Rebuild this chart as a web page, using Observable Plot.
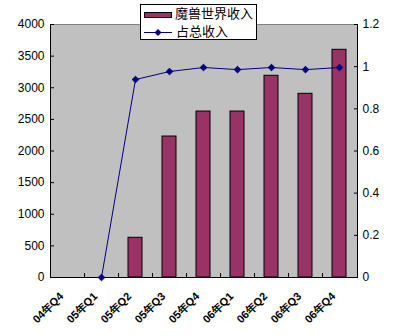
<!DOCTYPE html>
<html><head><meta charset="utf-8">
<script src="https://cdn.jsdelivr.net/npm/d3@7"></script>
<script src="https://cdn.jsdelivr.net/npm/@observablehq/plot@0.6"></script>
<style>
body{margin:0;background:#fff;}
#wrap{position:relative;width:402px;height:336px;}
#legend{position:absolute;left:140px;top:4px;}
</style></head><body><div id="wrap"></div>
<script>
const quarters = ["04年Q4","05年Q1","05年Q2","05年Q3","05年Q4","06年Q1","06年Q2","06年Q3","06年Q4"];
const wowRevenue = [0, 0, 628, 2229, 2624, 2624, 3189, 2904, 3600];
const shareOfTotal = [null, 0, 0.939, 0.977, 0.996, 0.986, 0.996, 0.986, 0.996];
const leftTicks = [0, 500, 1000, 1500, 2000, 2500, 3000, 3500, 4000];
const rightTicks = [0, 0.2, 0.4, 0.6, 0.8, 1, 1.2];
const seriesNames = ["魔兽世界收入", "占总收入"];

const W = 402, H = 336, ML = 50, MR = 45, MT = 24, MB = 59;
const yMax = 4000, rMax = 1.2, k = yMax / rMax;
const rows = quarters.map((q, i) => ({q, rev: wowRevenue[i], share: shareOfTotal[i]}));
const barRows = rows.filter(d => d.rev > 0);
const lineRows = rows.filter(d => d.share != null);
const step = (W - ML - MR) / quarters.length;
const barColor = "#993366", lineColor = "#000080";

const plot = Plot.plot({
  width: W, height: H,
  marginTop: MT, marginBottom: MB, marginLeft: ML, marginRight: MR,
  style: {fontFamily: "'Liberation Sans', Arial, sans-serif", fontSize: "12px", color: "#000", background: "transparent"},
  x: {domain: quarters, paddingInner: 0.58, paddingOuter: 0.29, label: null},
  y: {domain: [0, yMax], label: null},
  marks: [
    Plot.frame({fill: "#c0c0c0", stroke: "#808080"}),
    Plot.frame({anchor: "left", stroke: "#000"}),
    Plot.frame({anchor: "right", stroke: "#000"}),
    Plot.frame({anchor: "bottom", stroke: "#000"}),
    Plot.barY(barRows, {x: "q", y: "rev", fill: barColor, stroke: "#000", strokeWidth: 1}),
    Plot.line(lineRows, {x: "q", y: d => d.share * k, stroke: lineColor, strokeWidth: 1}),
    Plot.dot(lineRows, {x: "q", y: d => d.share * k, symbol: "diamond2", r: 3, fill: lineColor, stroke: lineColor, strokeWidth: 1}),
    Plot.axisY({ticks: leftTicks, tickSize: -4, tickPadding: 10, tickFormat: d => String(d), label: null}),
    Plot.axisY({anchor: "right", ticks: rightTicks.map(v => v * k), tickSize: -4, tickPadding: 9,
      tickFormat: v => String(+(v / k).toFixed(1)), label: null}),
    Plot.axisX({ticks: quarters.slice(0, -1), tickSize: -4, dx: step / 2, tickFormat: () => "", label: null}),
    Plot.axisX({tickSize: 0, tickRotate: -45, tickPadding: 17, dx: -6, fontWeight: "bold", fontSize: 11, label: null})
  ]
});
document.getElementById("wrap").appendChild(plot);

// legend
const ns = "http://www.w3.org/2000/svg";
const lg = document.createElementNS(ns, "svg");
lg.setAttribute("id", "legend");
lg.setAttribute("width", 118); lg.setAttribute("height", 37);
lg.innerHTML = `
  <rect x="0.5" y="0.5" width="116" height="35" fill="#fff" stroke="#000"/>
  <rect x="4.5" y="8.5" width="27" height="5" fill="${barColor}" stroke="#000"/>
  <text x="35" y="14" font-family="'Noto Sans CJK SC', sans-serif" font-size="13" fill="#000">${seriesNames[0]}</text>
  <line x1="4" x2="32" y1="28.5" y2="28.5" stroke="${lineColor}" stroke-width="1"/>
  <path d="M18,25 L21.5,28.5 L18,32 L14.5,28.5 Z" fill="${lineColor}"/>
  <text x="36" y="32" font-family="'Noto Sans CJK SC', sans-serif" font-size="13" fill="#000">${seriesNames[1]}</text>
`;
document.getElementById("wrap").appendChild(lg);
</script></body></html>
